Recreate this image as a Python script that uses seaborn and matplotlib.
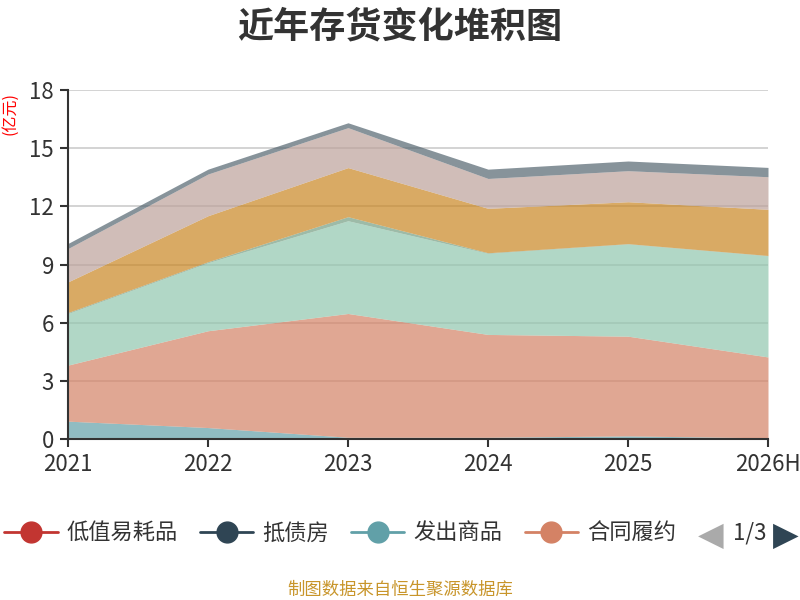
import matplotlib
matplotlib.use('Agg')
import matplotlib.pyplot as plt
import seaborn as sns
from matplotlib.lines import Line2D

years = ['2021', '2022', '2023', '2024', '2025', '2026H']

# stacked series, bottom to top (亿元)
names = ['低值易耗品', '抵债房', '发出商品', '合同履约成本', '原材料',
         '周转材料', '库存商品', '在产品', '委托加工物资', '开发成本']
low_value = [0.05, 0.03, 0.02, 0.02, 0.02, 0.02]
foreclosed = [0.05, 0.03, 0.02, 0.02, 0.02, 0.02]
shipped = [0.83, 0.54, 0.06, 0.06, 0.13, 0.03]
contract_cost = [2.89, 4.99, 6.38, 5.30, 5.14, 4.17]
raw_material = [2.66, 3.51, 4.78, 4.18, 4.75, 5.21]
turnover = [0.05, 0.05, 0.21, 0.03, 0.02, 0.02]
goods = [1.58, 2.37, 2.53, 2.29, 2.16, 2.38]
wip = [1.72, 2.15, 2.06, 1.54, 1.60, 1.68]
outsourced = [0.0, 0.0, 0.0, 0.0, 0.0, 0.0]
dev_cost = [0.26, 0.25, 0.25, 0.48, 0.50, 0.48]

series = [low_value, foreclosed, shipped, contract_cost, raw_material,
          turnover, goods, wip, outsourced, dev_cost]
colors = ['#c23531', '#2f4554', '#61a0a8', '#d48265', '#91c7ae',
          '#749f83', '#ca8622', '#bda29a', '#6e7074', '#546570']

sns.set_theme(style='white')
plt.rcParams['font.family'] = ['Noto Sans CJK SC', 'DejaVu Sans']

fig = plt.figure(figsize=(8, 6), dpi=100)
ax = fig.add_axes([0.085, 0.268, 0.875, 0.582])

x = list(range(len(years)))
ax.stackplot(x, *series, colors=colors, alpha=0.7, linewidth=0)

ax.set_xlim(0, len(years) - 1)
ax.set_ylim(0, 18)
ax.set_yticks([0, 3, 6, 9, 12, 15, 18])
ax.set_xticks(x)
ax.set_xticklabels(years)
ax.yaxis.grid(True, color='#cccccc', linewidth=1.2)
ax.set_axisbelow(True)
sns.despine(ax=ax)
for s in ['left', 'bottom']:
    ax.spines[s].set_color('#333333')
    ax.spines[s].set_linewidth(1.5)
ax.tick_params(axis='both', colors='#333333', labelsize=16, length=6, width=1.5,
               direction='out', bottom=True, left=True)
ax.tick_params(axis='x', pad=4)
ax.tick_params(axis='y', pad=4)

fig.text(0.5, 0.955, '近年存货变化堆积图', ha='center', va='center',
         fontsize=26, fontweight='bold', color='#333333')
fig.text(0.012, 0.81, '(亿元)', rotation=90, ha='center', va='center',
         fontsize=11.5, color='red')

handles = [Line2D([0], [0], color=colors[i], lw=2, marker='o', markersize=15,
                  markerfacecolor=colors[i], markeredgecolor=colors[i])
           for i in range(4)]
labels = ['低值易耗品', '抵债房', '发出商品', '合同履约']
fig.legend(handles, labels, loc='center', bbox_to_anchor=(0.425, 0.112), ncol=4,
           frameon=False, fontsize=16, handlelength=2.4, handletextpad=0.4,
           columnspacing=1.0, labelcolor='#333333')
fig.text(0.888, 0.108, '◀', ha='center', va='center', fontsize=24,
         color='#aaaaaa', family='DejaVu Sans')
fig.text(0.937, 0.112, '1/3', ha='center', va='center', fontsize=16, color='#333333')
fig.text(0.982, 0.108, '▶', ha='center', va='center', fontsize=24,
         color='#2f4554', family='DejaVu Sans')

fig.text(0.5, 0.017, '制图数据来自恒生聚源数据库', ha='center', va='center',
         fontsize=12.5, color='#c8952a')

fig.savefig('out.png', dpi=100)
